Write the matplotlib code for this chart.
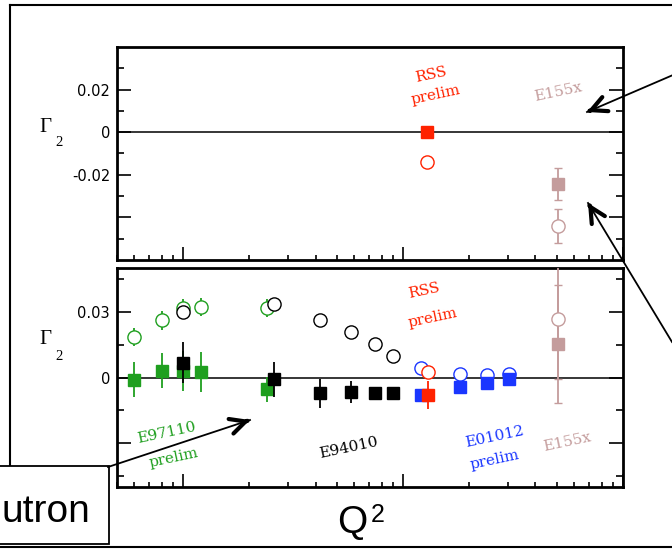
import matplotlib
matplotlib.use("Agg")
import matplotlib.pyplot as plt
from matplotlib.lines import Line2D
from matplotlib.patches import Rectangle, FancyArrowPatch
from matplotlib.ticker import FixedLocator, FixedFormatter, LogLocator, NullFormatter

W, H = 672, 549

GREEN = '#1f9f1f'
RED = '#ff2200'
BLUE = '#1a36ff'
ROSY = '#c49c9c'

# upper panel: RSS and E155x (Q^2 in GeV^2, Gamma_2)
rss_top_q2 = [1.28]
rss_top_full = [0.0003]
rss_top_full_err = [0.001]
rss_top_open = [-0.0138]

e155x_top_q2 = [5.05]
e155x_top_full = [-0.0243]
e155x_top_full_err = [0.0074]
e155x_top_open = [-0.044]
e155x_top_open_err = [0.008]

# lower panel
e97110_q2 = [0.06, 0.08, 0.10, 0.12, 0.24]
e97110_open = [0.0185, 0.0261, 0.0318, 0.0323, 0.0318]
e97110_open_err = [0.0042, 0.0042, 0.0042, 0.0042, 0.0042]
e97110_full = [-0.001, 0.003, 0.003, 0.0026, -0.0053]
e97110_full_err = [0.008, 0.008, 0.009, 0.009, 0.0057]

e94010_q2 = [0.10, 0.26, 0.42, 0.58, 0.745, 0.90]
e94010_open = [0.030, 0.0336, 0.0261, 0.0209, 0.0152, 0.0099]
e94010_full = [0.0068, -0.0008, -0.0073, -0.0068, -0.0073, -0.0073]
e94010_full_err = [0.0095, 0.008, 0.0065, 0.005, 0.003, 0.003]

e01012_q2 = [1.21, 1.82, 2.41, 3.03]
e01012_open = [0.0045, 0.0015, 0.0012, 0.0018]
e01012_full = [-0.008, -0.0045, -0.0023, -0.0007]

rss_q2 = [1.30]
rss_open = [0.0023]
rss_full = [-0.008]
rss_full_err = [0.0065]

e155x_q2 = [5.05]
e155x_open = [0.0265]
e155x_open_err = [0.027]
e155x_full = [0.0152]
e155x_full_err = [0.027]

top_ticks = [-0.04, -0.02, 0.0, 0.02]
top_labels = ['', '-0.02', '0', '0.02']
top_minor = [-0.05, -0.03, -0.01, 0.01, 0.03]
bot_ticks = [-0.03, 0.0, 0.03]
bot_labels = ['', '0', '0.03']
bot_minor = [-0.045, -0.015, 0.015, 0.045]


def px(x, y):
    # pixel position (origin top-left) -> figure fraction
    return x / W, 1 - y / H


def setup_axis(ax, ylim, ticks, labels, minor):
    ax.set_xscale('log')
    ax.set_xlim(0.05, 10)
    ax.set_ylim(*ylim)
    ax.xaxis.set_major_locator(LogLocator(base=10))
    ax.xaxis.set_minor_locator(LogLocator(base=10, subs=range(2, 10)))
    ax.xaxis.set_major_formatter(NullFormatter())
    ax.xaxis.set_minor_formatter(NullFormatter())
    ax.yaxis.set_major_locator(FixedLocator(ticks))
    ax.yaxis.set_major_formatter(FixedFormatter(labels))
    ax.yaxis.set_minor_locator(FixedLocator(minor))
    ax.tick_params(axis='x', which='both', direction='in', top=False, bottom=True, width=1.2)
    ax.tick_params(axis='x', which='major', length=9.5)
    ax.tick_params(axis='x', which='minor', length=3.8)
    ax.tick_params(axis='y', which='both', direction='in', left=True, right=True, width=1.2,
                   labelsize=10.5, pad=5)
    ax.tick_params(axis='y', which='major', length=10)
    ax.tick_params(axis='y', which='minor', length=5)
    for s in ax.spines.values():
        s.set_linewidth(2.0)
    ax.axhline(0, color='black', lw=1.1, zorder=1)


def points(ax, x, y, color, marker, err=None, filled=True, ms=9, capsize=0, z=3):
    # open markers get a white face so error bars stop at the ring
    face = color if filled else 'white'
    ax.errorbar(x, y, yerr=err, fmt=marker, ms=ms, mfc=face, mec=color, mew=1.0,
                ecolor=color, elinewidth=1.3, capsize=capsize, capthick=1.2, zorder=z)


fig = plt.figure(figsize=(W / 100, H / 100), dpi=100)

ax1 = fig.add_axes([117 / W, 1 - 260 / H, 506 / W, 213 / H])
ax2 = fig.add_axes([117 / W, 1 - 487 / H, 506 / W, 219 / H])
setup_axis(ax1, (-0.06, 0.04), top_ticks, top_labels, top_minor)
setup_axis(ax2, (-0.05, 0.05), bot_ticks, bot_labels, bot_minor)

# upper panel
points(ax1, rss_top_q2, rss_top_full, RED, 's', rss_top_full_err, ms=8.5)
points(ax1, rss_top_q2, rss_top_open, RED, 'o', filled=False, ms=9.5)
points(ax1, e155x_top_q2, e155x_top_full, ROSY, 's', e155x_top_full_err, ms=8.5, capsize=3)
points(ax1, e155x_top_q2, e155x_top_open, ROSY, 'o', e155x_top_open_err, filled=False,
       ms=9.5, capsize=3)

# lower panel
points(ax2, e97110_q2, e97110_open, GREEN, 'o', e97110_open_err, filled=False, ms=9.5)
points(ax2, e97110_q2, e97110_full, GREEN, 's', e97110_full_err, ms=8.5)
points(ax2, e94010_q2, e94010_open, 'black', 'o', filled=False, ms=9.5, z=4)
points(ax2, e94010_q2, e94010_full, 'black', 's', e94010_full_err, ms=8.5, z=4)
points(ax2, e01012_q2, e01012_open, BLUE, 'o', filled=False, ms=9.5)
points(ax2, e01012_q2, e01012_full, BLUE, 's', ms=8.5)
points(ax2, rss_q2, rss_open, RED, 'o', filled=False, ms=9.5, z=4)
points(ax2, rss_q2, rss_full, RED, 's', rss_full_err, ms=8.5, z=4)
points(ax2, e155x_q2, e155x_full, ROSY, 's', e155x_full_err, ms=8.5, capsize=3)
points(ax2, e155x_q2, e155x_open, ROSY, 'o', e155x_open_err, filled=False, ms=9.5, capsize=3)

# experiment labels
serif = 'DejaVu Serif'
labels = [
    ('RSS', (431, 75), RED), ('prelim', (436, 95), RED),
    ('E155x', (558, 92), ROSY),
    ('RSS', (424, 291), RED), ('prelim', (433, 318), RED),
    ('E97110', (167, 433), GREEN), ('prelim', (174, 458), GREEN),
    ('E94010', (349, 448), 'black'),
    ('E01012', (495, 437), BLUE), ('prelim', (495, 460), BLUE),
    ('E155x', (567, 442), ROSY),
]
for txt, (x, y), col in labels:
    fig.text(*px(x, y), txt, color=col, family=serif, fontsize=11, rotation=12,
             ha='center', va='center')

# Gamma_2 axis titles
for gy in (127, 340):
    fig.text(*px(45, gy), '\u0393', family='Liberation Serif', fontsize=15,
             ha='center', va='center')
    fig.text(*px(59, gy + 16), '2', family='Liberation Serif', fontsize=10.5,
             ha='center', va='center')

fig.text(*px(352, 523), 'Q', family='Liberation Sans', fontsize=28, ha='center', va='center')
fig.text(*px(371, 503), '2', family='Liberation Sans', fontsize=18, ha='left', va='top')

# outer frame
frame_kw = dict(color='black', lw=1.5, transform=fig.transFigure)
for (x0, y0), (x1, y1) in [((10, 5), (672, 5)), ((10, 5), (10, 466)), ((0, 547), (672, 547))]:
    fig.add_artist(Line2D([x0 / W, x1 / W], [1 - y0 / H, 1 - y1 / H], **frame_kw))

box = Rectangle(px(-5, 544), 114 / W, 78 / H, transform=fig.transFigure,
                facecolor='white', edgecolor='black', lw=1.3, zorder=5)
fig.add_artist(box)
fig.text(*px(1, 512), 'utron', family='Liberation Sans', fontsize=28,
         ha='left', va='center', zorder=6)

# pointer arrows
arrows = [((108, 467), (250, 420)), ((680, 72), (587, 112)), ((672, 342), (588, 203))]
for (x0, y0), (x1, y1) in arrows:
    fig.add_artist(Line2D([x0 / W, x1 / W], [1 - y0 / H, 1 - y1 / H], color='black',
                          lw=1.3, transform=fig.transFigure, zorder=6))
    dx, dy = x1 - x0, y1 - y0
    n = (dx ** 2 + dy ** 2) ** 0.5
    start = (x1 - 3 * dx / n, y1 - 3 * dy / n)
    fig.add_artist(FancyArrowPatch(
        px(*start), px(x1, y1), transform=fig.transFigure,
        arrowstyle='->,head_length=1.1,head_width=0.55', lw=3.0, color='black',
        mutation_scale=10, shrinkA=0, shrinkB=0, zorder=6))

fig.savefig('out.png', dpi=100)
